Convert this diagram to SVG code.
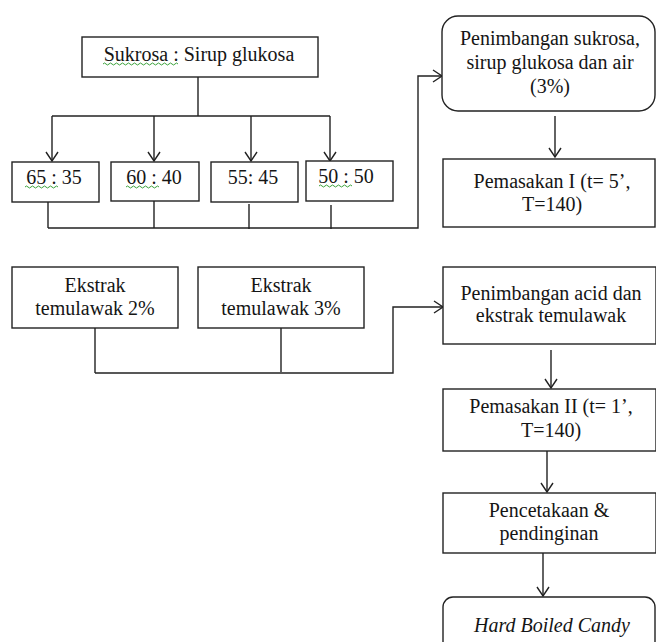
<svg xmlns="http://www.w3.org/2000/svg" width="656" height="642" viewBox="0 0 656 642">
<defs>
<style>
.box{fill:#fff;stroke:#222;stroke-width:1.4}
.t{font-family:"Liberation Serif","Times New Roman",serif;font-size:20px;fill:#151515;text-anchor:middle}
.it{font-style:italic}
.c{fill:none;stroke:#222;stroke-width:1.4}
.sq{fill:none;stroke:#3aa23a;stroke-width:1}
</style>
<marker id="ah" markerUnits="userSpaceOnUse" markerWidth="12" markerHeight="14" refX="10" refY="7" orient="auto">
<path d="M1,1 L10,7 L1,13" fill="none" stroke="#222" stroke-width="1.4"/>
</marker>
</defs>
<rect width="656" height="642" fill="#fff"/>

<g id="connectors">
<path class="c" d="M198,77 V116"/>
<path class="c" d="M52,116 H330"/>
<path class="c" d="M52,116 V161" marker-end="url(#ah)"/>
<path class="c" d="M154,116 V161" marker-end="url(#ah)"/>
<path class="c" d="M251,116 V161" marker-end="url(#ah)"/>
<path class="c" d="M330,116 V161" marker-end="url(#ah)"/>
<path class="c" d="M48,202 V228"/>
<path class="c" d="M154,201 V228"/>
<path class="c" d="M249,204 V229"/>
<path class="c" d="M331,205 V229"/>
<path class="c" d="M48,228 H418 V76 H442" marker-end="url(#ah)"/>
<path class="c" d="M555,116 V157" marker-end="url(#ah)"/>
<path class="c" d="M95,328 V373"/>
<path class="c" d="M281,328 V372"/>
<path class="c" d="M95,373 H393 V307 H443" marker-end="url(#ah)"/>
<path class="c" d="M551,350 V388" marker-end="url(#ah)"/>
<path class="c" d="M547,451 V492" marker-end="url(#ah)"/>
<path class="c" d="M543,553 V596" marker-end="url(#ah)"/>
</g>

<g id="sukrosa">
<rect class="box" x="82" y="37" width="236" height="40"/>
<text class="t" x="199" y="61">Sukrosa : Sirup glukosa</text>
<path class="sq" d="M103,64 q1.5,-2 3,0 t3,0 t3,0 t3,0 t3,0 t3,0 t3,0 t3,0 t3,0 t3,0 t3,0 t3,0 t3,0 t3,0 t3,0 t3,0 t3,0 t3,0 t3,0 t3,0 t3,0 t3,0 t3,0 t3,0 t3,0"/>
</g>

<g id="r65">
<rect class="box" x="12" y="162" width="87" height="40"/>
<text class="t" x="54" y="184">65 : 35</text>
<path class="sq" d="M25,187 q1.5,-2 3,0 t3,0 t3,0 t3,0 t3,0 t3,0 t3,0 t3,0 t3,0 t3,0 t3,0"/>
</g>

<g id="r60">
<rect class="box" x="111" y="162" width="88" height="39"/>
<text class="t" x="154" y="184">60 : 40</text>
<path class="sq" d="M126,187 q1.5,-2 3,0 t3,0 t3,0 t3,0 t3,0 t3,0 t3,0 t3,0 t3,0 t3,0 t3,0"/>
</g>

<g id="r55">
<rect class="box" x="211" y="162" width="87" height="40"/>
<text class="t" x="253" y="184">55: 45</text>
</g>

<g id="r50">
<rect class="box" x="306" y="161" width="87" height="40"/>
<text class="t" x="346" y="183">50 : 50</text>
<path class="sq" d="M319,186 q1.5,-2 3,0 t3,0 t3,0 t3,0 t3,0 t3,0 t3,0 t3,0 t3,0 t3,0 t3,0"/>
</g>

<g id="penimbangan1">
<rect class="box" x="442" y="16" width="213" height="95" rx="16" ry="16"/>
<text class="t" x="550" y="45">Penimbangan sukrosa,</text>
<text class="t" x="550" y="69">sirup glukosa dan air</text>
<text class="t" x="550" y="93">(3%)</text>
</g>

<g id="pemasakan1">
<rect class="box" x="443" y="159" width="212" height="68"/>
<text class="t" x="552" y="188">Pemasakan I (t= 5’,</text>
<text class="t" x="552" y="211">T=140)</text>
</g>

<g id="ekstrak2">
<rect class="box" x="12" y="267" width="166" height="61"/>
<text class="t" x="95" y="292">Ekstrak</text>
<text class="t" x="95" y="315">temulawak 2%</text>
</g>

<g id="ekstrak3">
<rect class="box" x="198" y="267" width="166" height="61"/>
<text class="t" x="281" y="292">Ekstrak</text>
<text class="t" x="281" y="315">temulawak 3%</text>
</g>

<g id="penimbangan2">
<rect class="box" x="443" y="267" width="213" height="77"/>
<text class="t" x="551" y="300">Penimbangan acid dan</text>
<text class="t" x="551" y="322">ekstrak temulawak</text>
</g>

<g id="pemasakan2">
<rect class="box" x="443" y="389" width="213" height="62"/>
<text class="t" x="551" y="413">Pemasakan II (t= 1’,</text>
<text class="t" x="551" y="437">T=140)</text>
</g>

<g id="pencetakaan">
<rect class="box" x="443" y="493" width="213" height="60"/>
<text class="t" x="549" y="517">Pencetakaan &amp;</text>
<text class="t" x="549" y="540">pendinginan</text>
</g>

<g id="hardcandy">
<rect class="box" x="443" y="597" width="212" height="70" rx="10" ry="10"/>
<text class="t it" x="552" y="632">Hard Boiled Candy</text>
</g>
</svg>
